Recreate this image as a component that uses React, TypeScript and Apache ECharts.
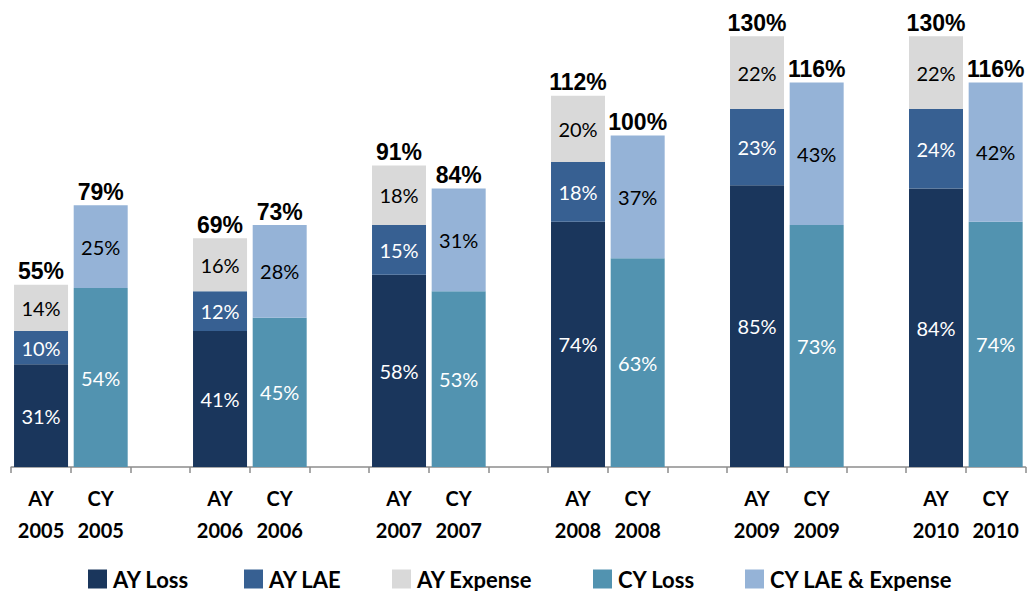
import React, { useEffect, useRef } from "react";
import * as echarts from "echarts";

const years = ["2005", "2006", "2007", "2008", "2009", "2010"];
const ayLoss = [31, 41, 58, 74, 85, 84];
const ayLae = [10, 12, 15, 18, 23, 24];
const ayExpense = [14, 16, 18, 20, 22, 22];
const ayTotal = [55, 69, 91, 112, 130, 130];
const cyLoss = [54, 45, 53, 63, 73, 74];
const cyLaeExp = [25, 28, 31, 37, 43, 42];
const cyTotal = [79, 73, 84, 100, 116, 116];
const legendNames = ["AY Loss", "AY LAE", "AY Expense", "CY Loss", "CY LAE & Expense"];

const colors = {
  ayLoss: "#1A365C",
  ayLae: "#376092",
  ayExpense: "#D9D9D9",
  cyLoss: "#5293B0",
  cyLaeExp: "#95B3D7",
};

// build 17 slots: AY, CY, gap per year (no trailing gap)
const categories: string[] = [];
const slotKind: { kind: "AY" | "CY" | "gap"; i: number }[] = [];
years.forEach((y, i) => {
  categories.push(`AY\n${y}`);
  slotKind.push({ kind: "AY", i });
  categories.push(`CY\n${y}`);
  slotKind.push({ kind: "CY", i });
  if (i < years.length - 1) {
    categories.push(" ".repeat(i + 1));
    slotKind.push({ kind: "gap", i });
  }
});

const pick = (kind: "AY" | "CY", arr: number[]) =>
  slotKind.map((s) => (s.kind === kind ? arr[s.i] : "-"));

const totalData = slotKind.map((s) => (s.kind === "gap" ? "-" : 0));
const totalLabels = slotKind.map((s) =>
  s.kind === "AY" ? ayTotal[s.i] : s.kind === "CY" ? cyTotal[s.i] : null
);

const inner = (color: string) => ({
  show: true,
  position: "inside",
  color,
  fontFamily: "Lato",
  fontSize: 20,
  formatter: (p: any) => `${p.value}%`,
});

const legendLefts = [88, 244, 392, 593, 745];

export default function App() {
  const ref = useRef<HTMLDivElement>(null);
  useEffect(() => {
    if (!ref.current) return;
    const chart = echarts.init(ref.current, undefined, { renderer: "svg" });
    const barWidth = 54;
    const mk = (name: string, data: any[], color: string, labelColor: string) => ({
      name,
      type: "bar",
      stack: "all",
      barWidth,
      data,
      itemStyle: { color },
      label: inner(labelColor),
    });
    chart.setOption({
      animation: false,
      grid: { left: 11.2, right: 5.5, top: 3, bottom: 124 },
      legend: legendNames.map((n, k) => ({
        data: [n],
        left: legendLefts[k],
        top: 568,
        padding: 0,
        itemWidth: 19,
        itemHeight: 19,
        icon: "rect",
        textStyle: { fontFamily: "Lato", fontWeight: "bold", fontSize: 22, color: "#000", padding: [0, 0, 0, 1] },
      })),
      xAxis: {
        type: "category",
        data: categories,
        axisLine: { lineStyle: { color: "#8C8C8C", width: 1.5 } },
        axisTick: { show: true, length: 6, interval: 0, lineStyle: { color: "#8C8C8C", width: 1.5 } },
        axisLabel: {
          interval: 0,
          margin: 15,
          color: "#000",
          fontFamily: "Lato",
          fontWeight: "bold",
          fontSize: 20,
          lineHeight: 32,
        },
      },
      yAxis: { type: "value", min: 0, max: 140, show: false, splitLine: { show: false } },
      series: [
        mk("AY Loss", pick("AY", ayLoss), colors.ayLoss, "#fff"),
        mk("AY LAE", pick("AY", ayLae), colors.ayLae, "#fff"),
        mk("AY Expense", pick("AY", ayExpense), colors.ayExpense, "#000"),
        mk("CY Loss", pick("CY", cyLoss), colors.cyLoss, "#fff"),
        mk("CY LAE & Expense", pick("CY", cyLaeExp), colors.cyLaeExp, "#000"),
        {
          name: "Total",
          type: "bar",
          stack: "all",
          barWidth,
          data: totalData,
          itemStyle: { color: "transparent" },
          label: {
            show: true,
            position: "top",
            distance: 2,
            color: "#000",
            fontFamily: "Liberation Sans",
            fontWeight: "bold",
            fontSize: 23,
            formatter: (p: any) => {
              const v = totalLabels[p.dataIndex];
              return v == null ? "" : `${v}%`;
            },
          },
        },
      ],
    });
    return () => chart.dispose();
  }, []);
  return (
    <div
      ref={ref}
      style={{ position: "absolute", left: 0, top: 0, width: 1031, height: 591, background: "#fff" }}
    />
  );
}
